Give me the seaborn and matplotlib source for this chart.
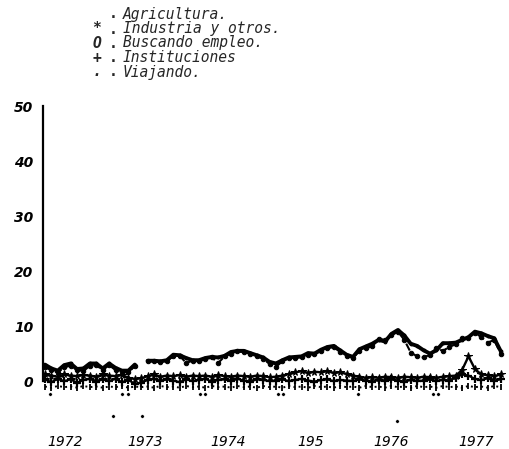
import numpy as np
import pandas as pd
import matplotlib
matplotlib.use("Agg")
import matplotlib.pyplot as plt
import seaborn as sns

nan = np.nan

# ---- data (monthly, Jan 1972 .. Dec 1977) ----
agricultura = [3.0, 2.3, 1.9, 2.9, 3.2, 2.2, 2.3, 3.2, 3.2, 2.3, 3.2, 2.4, 1.9, 1.9, 3.0, nan,
               3.7, 3.7, 3.6, 3.8, 4.8, 4.7, 4.2, 3.8,
               3.8, 4.2, 4.4, 4.3, 4.6, 5.3, 5.5, 5.5, 5.1, 4.7, 4.3, 3.5,
               3.2, 3.8, 4.3, 4.4, 4.5, 5.1, 5.0, 5.7, 6.2, 6.4, 5.6, 4.8,
               4.4, 5.8, 6.3, 6.8, 7.5, 7.2, 8.6, 9.3, 8.3, 6.8, 6.4, 5.6,
               5.0, 5.6, 6.9, 6.9, 7.0, 7.5, 8.0, 9.0, 8.7, 8.2, 7.8, 5.5]
buscando = [2.5, 2.0, 1.5, 2.5, 2.8, 2.0, 1.8, 2.8, 2.9, 2.0, 2.9, 2.0, 1.6, 1.6, 2.7, nan,
            3.6, 3.7, 3.5, 3.7, 4.5, 4.6, 3.3, 3.7,
            3.6, 4.0, 4.3, 3.3, 4.5, 5.0, 5.4, 5.3, 5.0, 4.5, 4.1, 3.1,
            2.6, 3.6, 4.2, 4.2, 4.4, 4.8, 4.9, 5.5, 6.0, 6.2, 5.3, 4.6,
            4.2, 5.5, 6.0, 6.3, 7.7, 7.5, 8.3, 9.0, 7.5, 5.2, 4.5, 4.3,
            4.8, 6.0, 5.5, 6.2, 6.7, 7.8, 7.9, 8.8, 8.0, 7.0, 7.5, 5.0]
industria = [1.2, 1.0, 0.8, 1.2, 1.0, 0.9, 1.1, 1.0, 0.8, 1.2, 1.0, 0.9, 1.1, 0.6, 0.4, 0.5,
             0.9, 1.2, 0.8, 1.0, 0.9, 1.1, 0.8, 1.0,
             0.9, 1.0, 0.8, 1.1, 0.9, 0.8, 1.0, 0.9, 0.8, 1.0, 0.9, 0.7,
             0.8, 1.0, 1.3, 1.6, 1.8, 1.5, 1.7, 1.6, 1.8, 1.5, 1.6, 1.3,
             1.0, 0.8, 0.6, 0.7, 0.6, 0.8, 0.7, 0.6, 0.8, 0.7, 0.6, 0.8,
             0.7, 0.6, 0.8, 0.9, 1.0, 2.0, 4.5, 2.2, 1.2, 1.1, 0.9, 1.2]
instituciones = [0.3, -0.2, 0.4, 0.0, 0.3, -0.3, 0.2, 0.4, -0.1, 0.3, 0.0, 0.4, -0.2, 0.2, -0.5, -0.3,
                 0.2, 0.4, 0.0, 0.3, 0.1, -0.2, 0.3, 0.0,
                 0.2, 0.4, -0.1, 0.2, 0.3, 0.0, 0.4, 0.1, -0.1, 0.3, 0.2, 0.0,
                 0.1, 0.3, 0.0, 0.2, 0.4, 0.1, -0.1, 0.2, 0.3, 0.0, 0.2, 0.1,
                 0.0, 0.3, 0.1, -0.1, 0.2, 0.0, 0.3, 0.1, -0.1, 0.2, 0.0, 0.1,
                 0.3, 0.0, 0.2, 0.1, 0.6, 1.2, 1.0, 0.4, 0.2, 0.5, 0.1, 0.3]
viajando = [-1.0, -1.2, -0.9, -1.1, -1.0, -1.2, -0.9, -1.1, -1.0, -1.2, -1.0, -1.1, -0.9, -1.2, -1.0, -1.1,
            -1.0, -1.2, -0.9, -1.1, -1.0, -1.2, -0.9, -1.1,
            -1.0, -1.2, -0.9, -1.1, -1.0, -1.2, -0.9, -1.1, -1.0, -1.2, -0.9, -1.1,
            -1.0, -1.2, -0.9, -1.1, -1.0, -1.2, -0.9, -1.1, -1.0, -1.2, -0.9, -1.1,
            -1.0, -1.2, -0.9, -1.1, -1.0, -1.2, -0.9, -1.1, -1.0, -1.2, -0.9, -1.1,
            -1.0, -1.2, -0.9, -1.1, -1.0, -1.2, -0.9, -1.1, -1.0, -1.2, -0.9, -1.1]
# stray dots visible in the scan
sueltos_mes = [0.8, 12.0, 12.9, 24.1, 24.9, 36.3, 37.1, 48.8, 60.4, 61.2, 10.6, 15.1, 54.8]
sueltos_val = [-2.3, -2.3, -2.3, -2.3, -2.3, -2.3, -2.3, -2.3, -2.3, -2.3, -6.4, -6.4, -7.2]

anios_pos = [3.1, 15.6, 28.6, 41.4, 53.9, 67.2]
anios_lbl = ["1972", "1973", "1974", "195", "1976", "1977"]
y_ticks = [0, 10, 20, 30, 40, 50]

leyenda_sim = ["", "*", "O", "+", "."]
leyenda_txt = ["Agricultura.", "Industria y otros.", "Buscando empleo.", "Instituciones", "Viajando."]

sns.set_style("white")
plt.rcParams["font.family"] = ["DejaVu Sans"]

fig = plt.figure(figsize=(5.09, 4.49), dpi=100)
W, H = 509, 449
ax = fig.add_axes([43 / W, 1 - 425 / H, 464 / W, (425 - 101) / H])


def frame(vals):
    v = np.array(vals, dtype=float)
    tramo = np.cumsum(np.isnan(v))
    d = pd.DataFrame({"mes": np.arange(len(v)), "valor": v, "tramo": tramo})
    return d.dropna()


estilos = [
    (viajando, dict(lw=1.4, ls=":", marker="|", ms=4, mew=1.3)),
    (instituciones, dict(lw=1.6, marker="+", ms=6, mew=1.6)),
    (industria, dict(lw=1.7, marker="*", ms=5.5)),
    (buscando, dict(lw=1.5, ls="--", marker="o", ms=3.2)),
    (agricultura, dict(lw=2.8, marker="o", ms=2)),
]
for vals, kw in estilos:
    sns.lineplot(data=frame(vals), x="mes", y="valor", units="tramo", estimator=None,
                 color="black", mec="black", mfc="black", ax=ax, legend=False, **kw)

sns.scatterplot(x=sueltos_mes, y=sueltos_val, color="black", s=6, ax=ax, legend=False)

ax.set_xlim(-0.3, 72)
ax.set_ylim(-8, 51)
for s in ["top", "right", "bottom"]:
    ax.spines[s].set_visible(False)
ax.spines["left"].set_bounds(0, 50)
ax.spines["left"].set_linewidth(1.6)
ax.spines["left"].set_color("black")
ax.set_yticks(y_ticks)
ax.set_yticklabels([str(t) for t in y_ticks], fontsize=10, style="italic", fontweight="bold")
ax.set_xticks(anios_pos)
ax.set_xticklabels(anios_lbl, fontsize=10, style="italic")
ax.tick_params(axis="y", length=4, width=1.2, direction="out", pad=3, colors="black")
ax.tick_params(axis="x", length=0, pad=7, colors="black")
ax.set_xlabel("")
ax.set_ylabel("")

ys = [14, 29, 43, 58, 72]
for sim, txt, y in zip(leyenda_sim, leyenda_txt, ys):
    fy = 1 - y / H
    if sim:
        fig.text(97 / W, fy, sim, ha="center", va="center", fontsize=10.5,
                 family="DejaVu Sans Mono", style="italic", fontweight="bold")
    fig.text(113 / W, fy, ".", ha="center", va="center", fontsize=10.5,
             family="DejaVu Sans Mono", fontweight="bold")
    fig.text(123 / W, fy, txt, ha="left", va="center", fontsize=10.5,
             family="DejaVu Sans Mono", style="italic")

fig.savefig("out.png", dpi=100, facecolor="white")
